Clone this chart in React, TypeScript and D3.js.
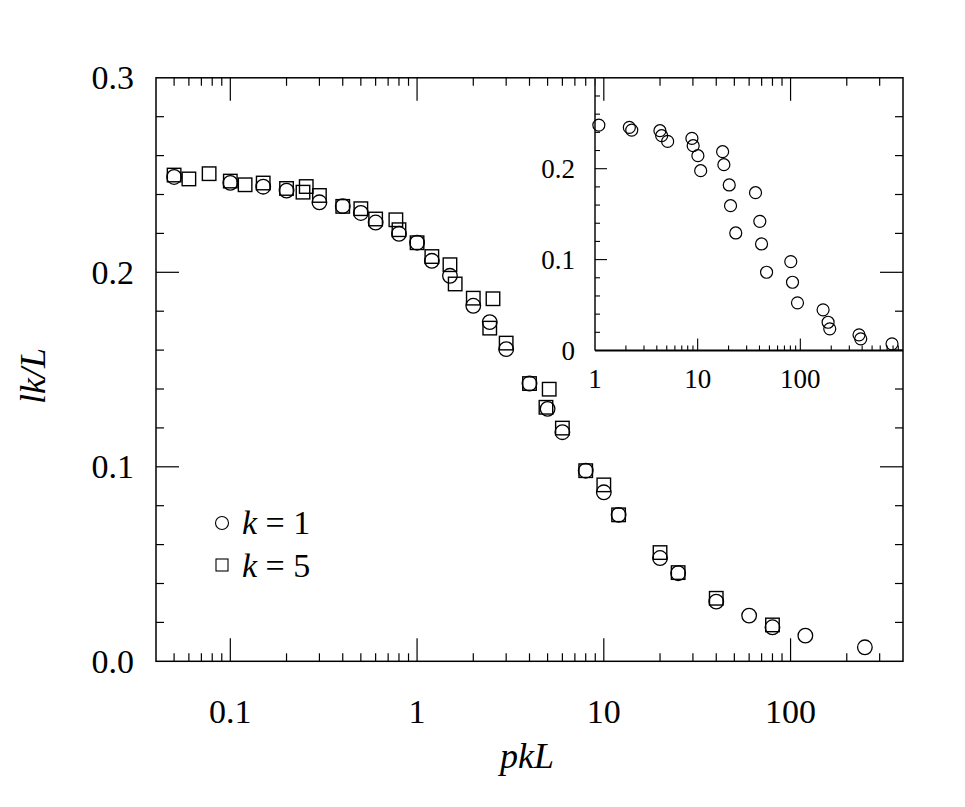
import React from "react";
import * as d3 from "d3";

// Main plot data (k = 1 circles)
const k1X = [0.05, 0.1, 0.15, 0.2, 0.3, 0.4, 0.5, 0.6, 0.8, 1, 1.2, 1.5, 2, 2.45, 3, 4, 5, 6, 8, 10, 12, 20, 25, 40, 60, 80, 120, 250];
const k1Y = [0.249, 0.246, 0.244, 0.242, 0.236, 0.234, 0.2305, 0.2256, 0.2198, 0.2152, 0.2059, 0.1982, 0.1828, 0.1744, 0.1605, 0.1428, 0.1298, 0.1178, 0.098, 0.0869, 0.0753, 0.0531, 0.0453, 0.0307, 0.0235, 0.0175, 0.0132, 0.0072];

// Main plot data (k = 5 squares)
const k5X = [0.05, 0.06, 0.077, 0.1, 0.12, 0.15, 0.2, 0.245, 0.255, 0.3, 0.4, 0.5, 0.6, 0.77, 0.8, 1, 1.2, 1.5, 1.6, 2, 2.45, 2.55, 3, 4, 4.9, 5.1, 6, 8, 10, 12, 20, 25, 40, 80];
const k5Y = [0.25, 0.248, 0.2507, 0.2469, 0.245, 0.2459, 0.2431, 0.2412, 0.2441, 0.2395, 0.2339, 0.2327, 0.2274, 0.227, 0.2219, 0.2152, 0.2081, 0.2039, 0.194, 0.1867, 0.1713, 0.1864, 0.1636, 0.1428, 0.1306, 0.1399, 0.1199, 0.098, 0.0907, 0.0753, 0.0559, 0.0456, 0.0324, 0.0187];

// Inset data
const insetX = [1.09, 2.16, 2.28, 4.29, 4.46, 5.1, 8.79, 9.04, 10.05, 10.7, 17.5, 18.0, 20.3, 20.9, 23.5, 36.6, 40.3, 41.9, 46.9, 80.7, 83.9, 93.8, 166.6, 186.4, 193.5, 373, 387.6, 781.6];
const insetY = [0.248, 0.2454, 0.2425, 0.2418, 0.2363, 0.23, 0.2333, 0.2253, 0.2143, 0.1978, 0.2187, 0.2044, 0.1821, 0.1593, 0.1293, 0.1736, 0.1421, 0.1172, 0.0861, 0.0978, 0.0751, 0.0524, 0.0447, 0.0311, 0.0238, 0.0172, 0.0128, 0.0073];

const mainXTickLabels = ["0.1", "1", "10", "100"];
const mainXTickValues = [0.1, 1, 10, 100];
const mainYTickLabels = ["0.0", "0.1", "0.2", "0.3"];
const mainYTickValues = [0, 0.1, 0.2, 0.3];
const insetXTickLabels = ["1", "10", "100"];
const insetXTickValues = [1, 10, 100];
const insetYTickLabels = ["0", "0.1", "0.2"];
const insetYTickValues = [0, 0.1, 0.2];

const FONT = "Liberation Serif";

function logTicks(lo: number, hi: number) {
  const out: { v: number; major: boolean }[] = [];
  for (let e = Math.floor(Math.log10(lo)); e <= Math.ceil(Math.log10(hi)); e++) {
    for (let k = 1; k <= 9; k++) {
      const v = k * Math.pow(10, e);
      if (v >= lo * 0.9999 && v <= hi * 1.0001) out.push({ v, major: k === 1 });
    }
  }
  return out;
}

function Txt(props: { x: number; y: number; size: number; anchor?: string; rotate?: number; italic?: boolean; children: any }) {
  const { x, y, size, anchor, rotate, italic, children } = props;
  return (
    <text
      transform={`translate(${x},${y})${rotate ? ` rotate(${rotate})` : ""}`}
      textAnchor={anchor || "start"}
      fontFamily={FONT}
      fontSize={size}
      fontStyle={italic ? "italic" : "normal"}
      fill="#000"
    >
      {children}
    </text>
  );
}

export default function App() {
  const x = d3.scaleLog().domain([0.04, 400]).range([156, 903]);
  const y = d3.scaleLinear().domain([0, 0.3]).range([661.3, 77.8]);
  const L = 156, R = 903, T = 77.8, B = 661.3;

  const ix = d3.scaleLog().domain([1, 1000]).range([595, 903]);
  const iy = d3.scaleLinear().domain([0, 0.3]).range([350.5, 77.8]);
  const iL = 595, iR = 903, iT = 77.8, iB = 350.5;

  const xt = logTicks(0.04, 400).filter((t) => t.v > 0.0401 && t.v < 399);
  const yt = d3.range(0, 16).map((i) => ({ v: i * 0.02, major: i % 5 === 0 })).filter((t) => t.v > 0.001 && t.v < 0.299);

  const ixt = logTicks(1, 1000).filter((t) => t.v > 1.001 && t.v < 999);
  const iyt = d3.range(0, 16).map((i) => ({ v: i * 0.02, major: i % 5 === 0 })).filter((t) => t.v > 0.001 && t.v < 0.299);

  const MJ = 23, MN = 8;
  const IMJ = 12, IMN = 5;
  const sq = 13.5;

  return (
    <svg width={965} height={807} style={{ position: "absolute", left: 0, top: 0, background: "#fff" }}>
      <rect x={L} y={T} width={R - L} height={B - T} fill="none" stroke="#000" strokeWidth={1.5} />
      {xt.map((t, i) => {
        const px = x(t.v);
        const len = t.major ? MJ : MN;
        return (
          <g key={"xt" + i}>
            <line x1={px} x2={px} y1={B} y2={B - len} stroke="#000" strokeWidth={1.2} />
            <line x1={px} x2={px} y1={T} y2={T + len} stroke="#000" strokeWidth={1.2} />
          </g>
        );
      })}
      {yt.map((t, i) => {
        const py = y(t.v);
        const len = t.major ? MJ : MN;
        return (
          <g key={"yt" + i}>
            <line x1={L} x2={L + len} y1={py} y2={py} stroke="#000" strokeWidth={1.2} />
            <line x1={R} x2={R - len} y1={py} y2={py} stroke="#000" strokeWidth={1.2} />
          </g>
        );
      })}
      {mainXTickValues.map((v, i) => (
        <Txt key={"xl" + i} x={x(v)} y={723} size={34} anchor="middle">
          {mainXTickLabels[i]}
        </Txt>
      ))}
      {mainYTickValues.map((v, i) => (
        <Txt key={"yl" + i} x={134} y={y(v) + 11.5} size={34} anchor="end">
          {mainYTickLabels[i]}
        </Txt>
      ))}
      <Txt x={527} y={768} size={36} anchor="middle" italic>
        pkL
      </Txt>
      <Txt x={45} y={376} size={36} anchor="middle" italic rotate={-90}>
        lk/L
      </Txt>

      {k5X.map((v, i) => (
        <rect
          key={"s" + i}
          x={x(v) - sq / 2}
          y={y(k5Y[i]) - sq / 2}
          width={sq}
          height={sq}
          fill="none"
          stroke="#000"
          strokeWidth={1.4}
        />
      ))}
      {k1X.map((v, i) => (
        <circle key={"c" + i} cx={x(v)} cy={y(k1Y[i])} r={7.3} fill="none" stroke="#000" strokeWidth={1.3} />
      ))}

      {/* legend */}
      <circle cx={222} cy={523} r={6.5} fill="none" stroke="#000" strokeWidth={1.1} />
      <text x={242} y={534} fontFamily={FONT} fontSize={34}>
        <tspan fontStyle="italic">k</tspan>
        <tspan> = 1</tspan>
      </text>
      <rect x={216} y={559} width={12} height={12} fill="none" stroke="#000" strokeWidth={1.1} />
      <text x={242} y={577} fontFamily={FONT} fontSize={34}>
        <tspan fontStyle="italic">k</tspan>
        <tspan> = 5</tspan>
      </text>

      {/* inset axes */}
      <line x1={iL} x2={iL} y1={iT} y2={iB} stroke="#333" strokeWidth={1.8} />
      <line x1={iL} x2={iR} y1={iB} y2={iB} stroke="#000" strokeWidth={1.8} />
      {ixt.map((t, i) => {
        const px = ix(t.v);
        const len = t.major ? IMJ : IMN;
        return <line key={"ixt" + i} x1={px} x2={px} y1={iB} y2={iB - len} stroke="#000" strokeWidth={1.1} />;
      })}
      {iyt.map((t, i) => {
        const py = iy(t.v);
        const len = t.major ? IMJ : IMN;
        return <line key={"iyt" + i} x1={iL} x2={iL + len} y1={py} y2={py} stroke="#000" strokeWidth={1.1} />;
      })}
      {insetXTickValues.map((v, i) => (
        <Txt key={"ixl" + i} x={ix(v)} y={388} size={27} anchor="middle">
          {insetXTickLabels[i]}
        </Txt>
      ))}
      {insetYTickValues.map((v, i) => (
        <Txt key={"iyl" + i} x={575} y={iy(v) + 9} size={27} anchor="end">
          {insetYTickLabels[i]}
        </Txt>
      ))}
      {insetX.map((v, i) => (
        <circle key={"ic" + i} cx={ix(v)} cy={iy(insetY[i])} r={6} fill="none" stroke="#000" strokeWidth={1.2} />
      ))}
    </svg>
  );
}
